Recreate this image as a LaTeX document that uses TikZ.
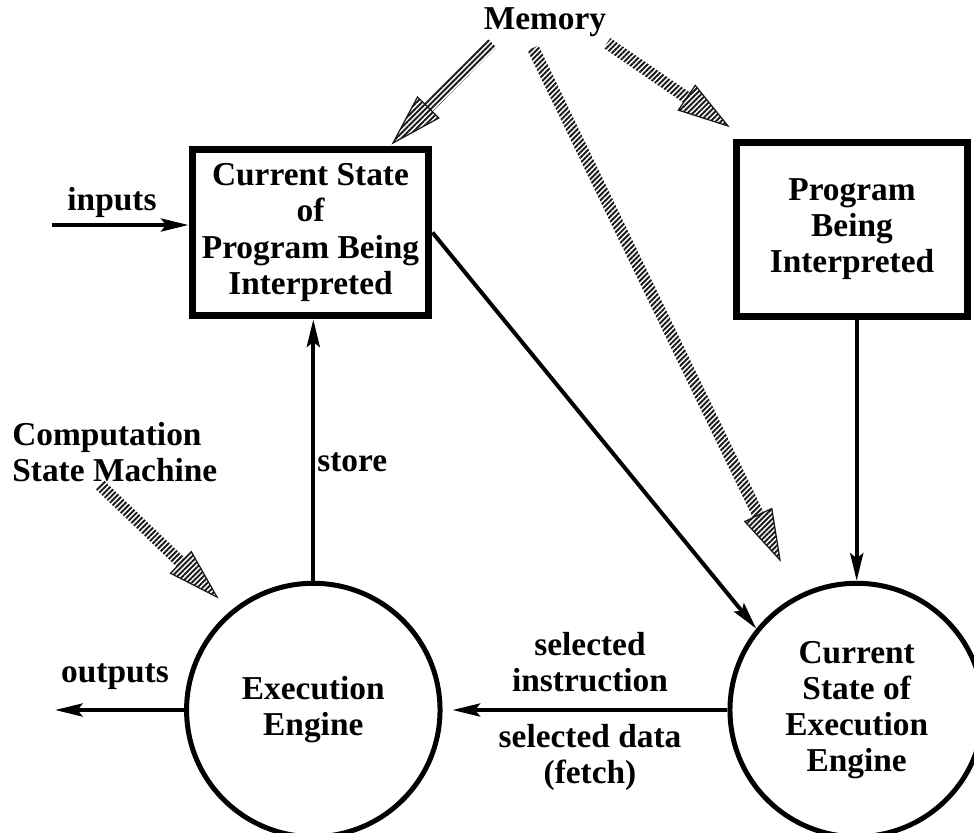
\documentclass[tikz,border=0pt]{standalone}
\usepackage{fontspec}
\setmainfont{Liberation Serif}
\usetikzlibrary{positioning, arrows.meta, calc, patterns.meta}

% hatched (shared memory) arrow from #1 to #2
\newcommand{\hatcharrow}[2]{%
  \coordinate (hb) at ($(#2)!1cm!(#1)$);
  \fill[pattern={Lines[angle=45, distance=2.1pt, line width=1.1pt]}, pattern color=black!90]
    ($(#1)!0.12cm!90:(#2)$) -- ($(hb)!0.12cm!90:(#2)$) -- ($(hb)!0.3cm!90:(#2)$) -- (#2)
    -- ($(hb)!0.3cm!-90:(#2)$) -- ($(hb)!0.12cm!-90:(#2)$) -- ($(#1)!0.12cm!-90:(#2)$) -- cycle;
  \draw[line width=0.7pt, black!90] ($(hb)!0.3cm!90:(#2)$) -- (#2) -- ($(hb)!0.3cm!-90:(#2)$) -- cycle;
}

\begin{document}
\begin{tikzpicture}[
  x=0.02cm, y=-0.02cm,
  font=\fontsize{19}{20.5}\selectfont\bfseries,
  box/.style={draw, line width=0.14cm, align=center, inner sep=0pt},
  circ/.style={draw, circle, line width=0.1cm, align=center, inner sep=0pt, minimum size=5.07cm},
  arr/.style={-{Stealth[length=0.55cm, width=0.26cm, inset=0.1cm]}, line width=0.08cm},
  lbl/.style={align=center, inner sep=0pt}
]
\clip (0,0) rectangle (974,832);
\node[box, minimum width=4.74cm, minimum height=3.34cm] (cur) at (310.5,232.5) {Current State\\of\\Program Being\\Interpreted};
\node[box, minimum width=4.64cm, minimum height=3.5cm] (prog) at (852,229.5) {Program\\Being\\Interpreted};
\node[circ] (exe) at (313.3,710) {Execution\\Engine};
\node[circ] (ces) at (856.7,710) {Current\\State of\\Execution\\Engine};

\node[lbl] (mem) at (545,22) {Memory};
\node[lbl] (inp) at (112,202) {inputs};
\node[lbl] (outp) at (115,677) {outputs};
\node[lbl, anchor=west] (sto) at (317,462) {store};
\node[lbl, align=left, anchor=west] (csm) at (12,452) {Computation\\State Machine};
\node[lbl] (selins) at (590,662) {selected\\instruction};
\node[lbl] (seldat) at (590,757) {selected data\\(fetch)};

\coordinate (in) at (52,225);
\coordinate (out) at (55,710);
\coordinate (m1) at (492,43);
\coordinate (m2) at (533,48);
\coordinate (m3) at (607,43);
\coordinate (t1) at (393,143);
\coordinate (t2) at (780,560);
\coordinate (t3) at (728,126);
\coordinate (c1) at (100,485);
\coordinate (t4) at (217,597);

\draw[arr] (in) -- (in -| cur.west);
\draw[arr] (exe.north) -- (exe.north |- cur.south);
\draw[arr] (cur.east) -- (ces.141);
\draw[arr] (prog.south -| ces.north) -- (ces.north);
\draw[arr, shorten >=0.2cm] (ces.west) -- (exe.east);
\draw[arr] (exe.west) -- (out);

\hatcharrow{m1}{t1}
\hatcharrow{m2}{t2}
\hatcharrow{m3}{t3}
\hatcharrow{c1}{t4}
\end{tikzpicture}
\end{document}
